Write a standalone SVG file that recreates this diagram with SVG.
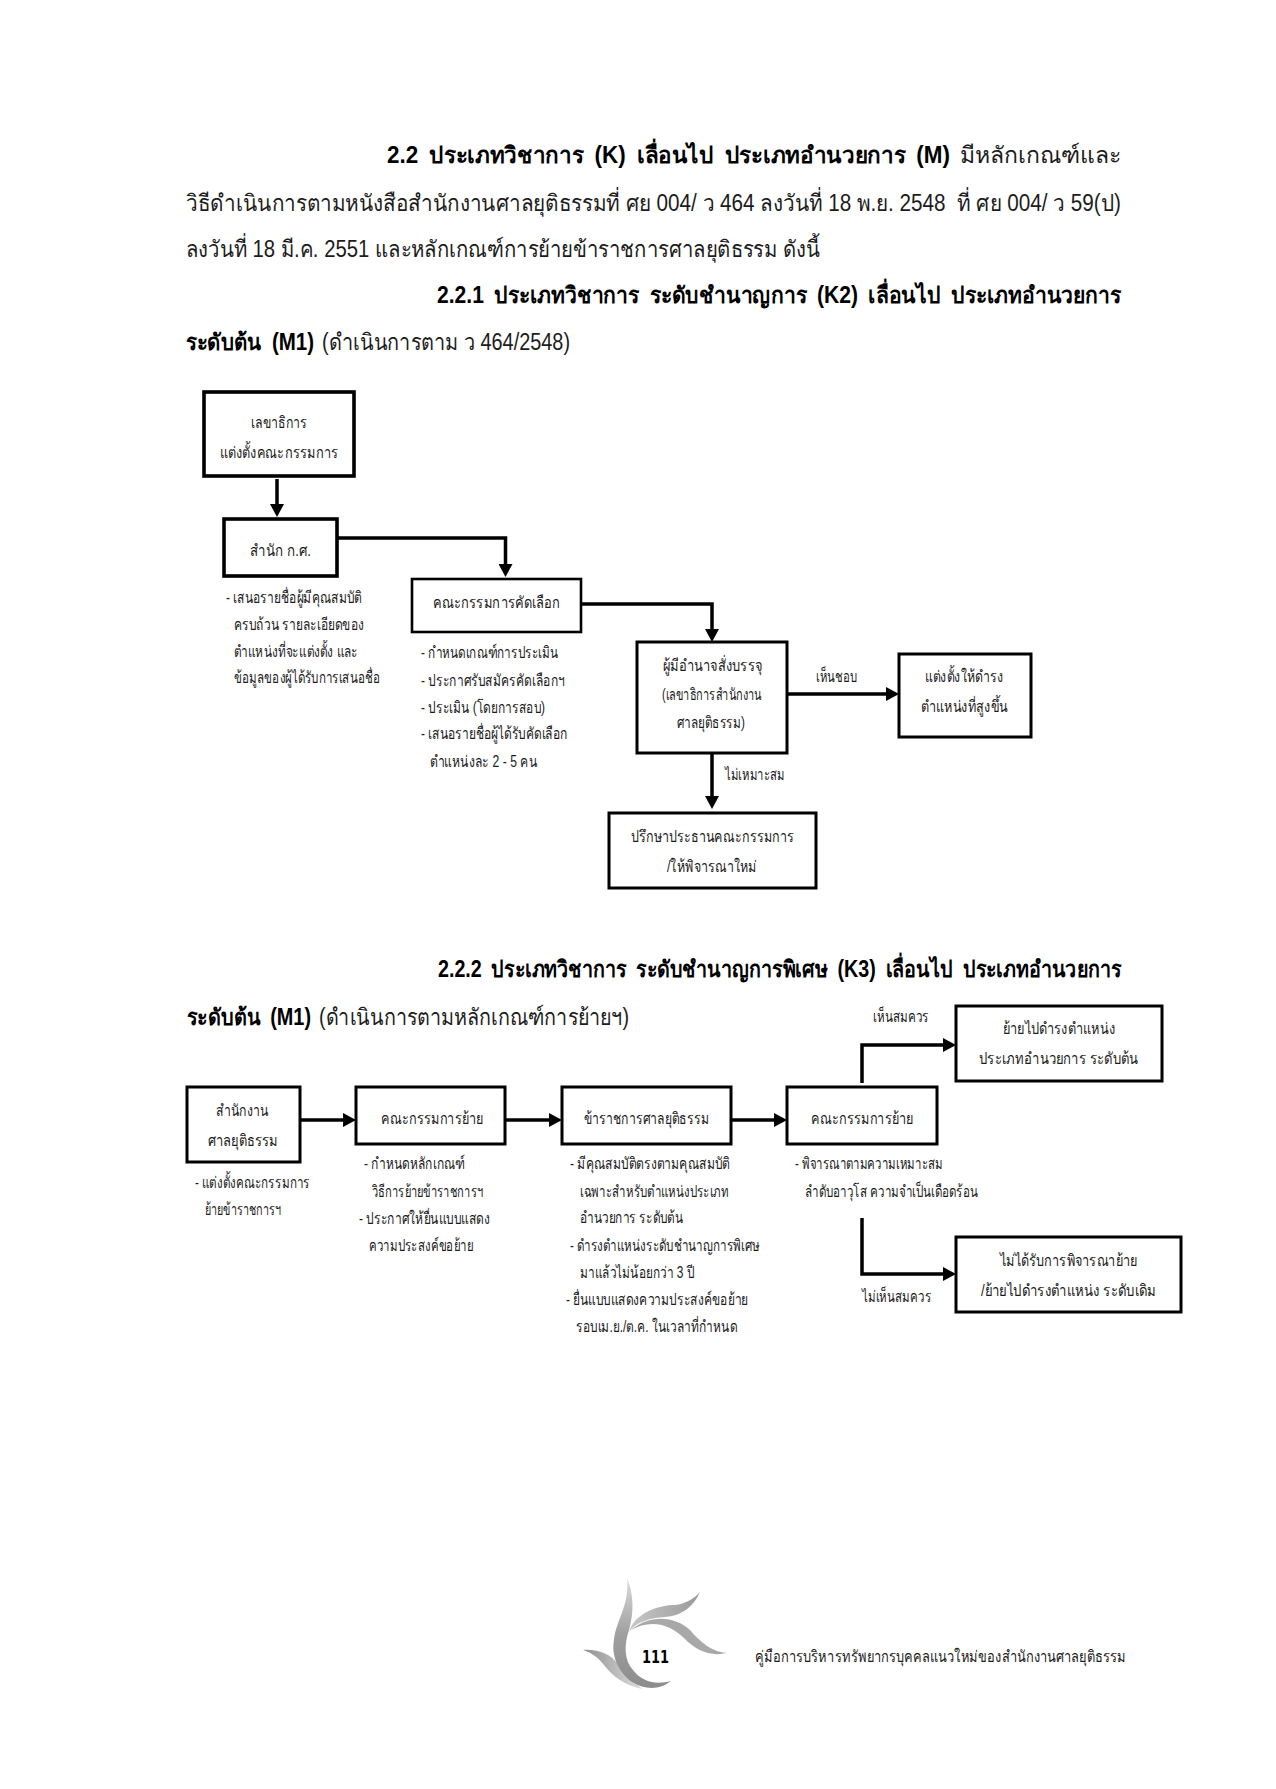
<svg xmlns="http://www.w3.org/2000/svg" width="1276" height="1789" viewBox="0 0 1276 1789">
<style>
text{font-family:"Liberation Sans","Noto Sans",sans-serif;fill:#1c1c1c}
.h{font-size:23px}
.hb{font-size:23px;font-weight:bold;word-spacing:5px;fill:#000}
.s{font-size:16px}
.box{fill:#fff;stroke:#000;stroke-width:3}
.thick{stroke-width:3.6}
.thin{stroke-width:2.6}
.c{fill:none;stroke:#000;stroke-width:3.5}
</style>
<defs>
<marker id="a" markerUnits="userSpaceOnUse" markerWidth="14" markerHeight="14" refX="0" refY="7" orient="auto"><path d="M0 0L13 7L0 14Z" fill="#000"/></marker>
<linearGradient id="g1" x1="0" y1="0" x2="0" y2="1"><stop offset="0" stop-color="#dcdcdc"/><stop offset="0.5" stop-color="#a0a0a0"/><stop offset="1" stop-color="#8c8c8c"/></linearGradient>
<linearGradient id="g2" x1="0" y1="0" x2="1" y2="0"><stop offset="0" stop-color="#c8c8c8"/><stop offset="1" stop-color="#9a9a9a"/></linearGradient>
<linearGradient id="g3" x1="0" y1="0" x2="1" y2="0"><stop offset="0" stop-color="#8f8f8f"/><stop offset="1" stop-color="#dedede"/></linearGradient>
</defs>
<rect width="1276" height="1789" fill="#fff"/>
<g id="body-text">
<text class="hb" x="387" y="163" textLength="563" lengthAdjust="spacingAndGlyphs">2.2 ประเภทวิชาการ (K) เลื่อนไป ประเภทอำนวยการ (M)</text>
<text class="h" x="960" y="163" textLength="161" lengthAdjust="spacingAndGlyphs">มีหลักเกณฑ์และ</text>
<text class="h" x="186" y="211" textLength="935" lengthAdjust="spacingAndGlyphs">วิธีดำเนินการตามหนังสือสำนักงานศาลยุติธรรมที่ ศย 004/ ว 464 ลงวันที่ 18 พ.ย. 2548 &#160;ที่ ศย 004/ ว 59(ป)</text>
<text class="h" x="186" y="257" textLength="634" lengthAdjust="spacingAndGlyphs">ลงวันที่ 18 มี.ค. 2551 และหลักเกณฑ์การย้ายข้าราชการศาลยุติธรรม ดังนี้</text>
<text class="hb" x="437" y="303" textLength="684" lengthAdjust="spacingAndGlyphs">2.2.1 ประเภทวิชาการ ระดับชำนาญการ (K2) เลื่อนไป ประเภทอำนวยการ</text>
<text class="hb" x="186" y="350" textLength="128" lengthAdjust="spacingAndGlyphs">ระดับต้น (M1)</text>
<text class="h" x="322" y="350" textLength="248" lengthAdjust="spacingAndGlyphs">(ดำเนินการตาม ว 464/2548)</text>
<text class="hb" x="438" y="977" textLength="683" lengthAdjust="spacingAndGlyphs">2.2.2 ประเภทวิชาการ ระดับชำนาญการพิเศษ (K3) เลื่อนไป ประเภทอำนวยการ</text>
<text class="hb" x="187" y="1025" textLength="124" lengthAdjust="spacingAndGlyphs">ระดับต้น (M1)</text>
<text class="h" x="319" y="1025" textLength="310" lengthAdjust="spacingAndGlyphs">(ดำเนินการตามหลักเกณฑ์การย้ายฯ)</text>
</g>
<g id="connectors">
<path class="c" d="M277 479V504" marker-end="url(#a)"/>
<path class="c" d="M337 538H505.500V564" marker-end="url(#a)"/>
<path class="c" d="M581 604H712V629" marker-end="url(#a)"/>
<path class="c" d="M787 694H886" marker-end="url(#a)"/>
<path class="c" d="M712 753V796" marker-end="url(#a)"/>
<path class="c" d="M300 1120H343" marker-end="url(#a)"/>
<path class="c" d="M505 1120H549" marker-end="url(#a)"/>
<path class="c" d="M731 1120H774" marker-end="url(#a)"/>
<path class="c" d="M862 1083V1045H943" marker-end="url(#a)"/>
<path class="c" d="M862 1218V1274H943" marker-end="url(#a)"/>
</g>
<g id="n1"><rect class="box thick" x="204" y="392" width="150" height="84"/><text class="s" x="251" y="428" textLength="56" lengthAdjust="spacingAndGlyphs">เลขาธิการ</text><text class="s" x="220" y="458" textLength="118" lengthAdjust="spacingAndGlyphs">แต่งตั้งคณะกรรมการ</text></g>
<g id="n2"><rect class="box thick" x="224" y="519" width="113" height="57"/><text class="s" x="250" y="556" textLength="61" lengthAdjust="spacingAndGlyphs">สำนัก ก.ศ.</text></g>
<g id="n2-notes"><text class="s" x="226" y="603" textLength="136" lengthAdjust="spacingAndGlyphs">- เสนอรายชื่อผู้มีคุณสมบัติ</text><text class="s" x="234" y="630" textLength="130" lengthAdjust="spacingAndGlyphs">ครบถ้วน รายละเอียดของ</text><text class="s" x="234" y="657" textLength="124" lengthAdjust="spacingAndGlyphs">ตำแหน่งที่จะแต่งตั้ง และ</text><text class="s" x="234" y="683" textLength="146" lengthAdjust="spacingAndGlyphs">ข้อมูลของผู้ได้รับการเสนอชื่อ</text></g>
<g id="n3"><rect class="box thin" x="412" y="579" width="169" height="53"/><text class="s" x="433" y="608" textLength="127" lengthAdjust="spacingAndGlyphs">คณะกรรมการคัดเลือก</text></g>
<g id="n3-notes"><text class="s" x="421" y="658" textLength="137" lengthAdjust="spacingAndGlyphs">- กำหนดเกณฑ์การประเมิน</text><text class="s" x="421" y="686" textLength="144" lengthAdjust="spacingAndGlyphs">- ประกาศรับสมัครคัดเลือกฯ</text><text class="s" x="421" y="713" textLength="124" lengthAdjust="spacingAndGlyphs">- ประเมิน (โดยการสอบ)</text><text class="s" x="421" y="739" textLength="147" lengthAdjust="spacingAndGlyphs">- เสนอรายชื่อผู้ได้รับคัดเลือก</text><text class="s" x="430" y="767" textLength="107" lengthAdjust="spacingAndGlyphs">ตำแหน่งละ 2 - 5 คน</text></g>
<g id="n4"><rect class="box" x="637" y="642" width="150" height="111"/><text class="s" x="663" y="671" textLength="99" lengthAdjust="spacingAndGlyphs">ผู้มีอำนาจสั่งบรรจุ</text><text class="s" x="662" y="700" textLength="100" lengthAdjust="spacingAndGlyphs">(เลขาธิการสำนักงาน</text><text class="s" x="677" y="728" textLength="68" lengthAdjust="spacingAndGlyphs">ศาลยุติธรรม)</text></g>
<g id="n5"><rect class="box" x="899" y="654" width="132" height="83"/><text class="s" x="925" y="682" textLength="78" lengthAdjust="spacingAndGlyphs">แต่งตั้งให้ดำรง</text><text class="s" x="921" y="712" textLength="87" lengthAdjust="spacingAndGlyphs">ตำแหน่งที่สูงขึ้น</text></g>
<g id="n6"><rect class="box" x="609" y="813" width="207" height="75"/><text class="s" x="631" y="842" textLength="163" lengthAdjust="spacingAndGlyphs">ปรึกษาประธานคณะกรรมการ</text><text class="s" x="667" y="872" textLength="90" lengthAdjust="spacingAndGlyphs">/ให้พิจารณาใหม่</text></g>
<g id="labels-1"><text class="s" x="816" y="682" textLength="41" lengthAdjust="spacingAndGlyphs">เห็นชอบ</text><text class="s" x="725" y="780" textLength="60" lengthAdjust="spacingAndGlyphs">ไม่เหมาะสม</text></g>
<g id="a1"><rect class="box" x="187" y="1087" width="113" height="75"/><text class="s" x="216" y="1116" textLength="52" lengthAdjust="spacingAndGlyphs">สำนักงาน</text><text class="s" x="208" y="1146" textLength="70" lengthAdjust="spacingAndGlyphs">ศาลยุติธรรม</text></g>
<g id="a1-notes"><text class="s" x="195" y="1188" textLength="115" lengthAdjust="spacingAndGlyphs">- แต่งตั้งคณะกรรมการ</text><text class="s" x="205" y="1215" textLength="76" lengthAdjust="spacingAndGlyphs">ย้ายข้าราชการฯ</text></g>
<g id="a2"><rect class="box" x="356" y="1087" width="149" height="57"/><text class="s" x="381" y="1124" textLength="102" lengthAdjust="spacingAndGlyphs">คณะกรรมการย้าย</text></g>
<g id="a2-notes"><text class="s" x="364" y="1169" textLength="101" lengthAdjust="spacingAndGlyphs">- กำหนดหลักเกณฑ์</text><text class="s" x="372" y="1197" textLength="111" lengthAdjust="spacingAndGlyphs">วิธีการย้ายข้าราชการฯ</text><text class="s" x="359" y="1224" textLength="131" lengthAdjust="spacingAndGlyphs">- ประกาศให้ยื่นแบบแสดง</text><text class="s" x="369" y="1251" textLength="104" lengthAdjust="spacingAndGlyphs">ความประสงค์ขอย้าย</text></g>
<g id="a3"><rect class="box" x="562" y="1087" width="169" height="57"/><text class="s" x="584" y="1124" textLength="125" lengthAdjust="spacingAndGlyphs">ข้าราชการศาลยุติธรรม</text></g>
<g id="a3-notes"><text class="s" x="570" y="1169" textLength="160" lengthAdjust="spacingAndGlyphs">- มีคุณสมบัติตรงตามคุณสมบัติ</text><text class="s" x="580" y="1197" textLength="149" lengthAdjust="spacingAndGlyphs">เฉพาะสำหรับตำแหน่งประเภท</text><text class="s" x="580" y="1223" textLength="103" lengthAdjust="spacingAndGlyphs">อำนวยการ ระดับต้น</text><text class="s" x="570" y="1251" textLength="190" lengthAdjust="spacingAndGlyphs">- ดำรงตำแหน่งระดับชำนาญการพิเศษ</text><text class="s" x="580" y="1278" textLength="114" lengthAdjust="spacingAndGlyphs">มาแล้วไม่น้อยกว่า 3 ปี</text><text class="s" x="566" y="1305" textLength="182" lengthAdjust="spacingAndGlyphs">- ยื่นแบบแสดงความประสงค์ขอย้าย</text><text class="s" x="576" y="1332" textLength="161" lengthAdjust="spacingAndGlyphs">รอบเม.ย./ต.ค. ในเวลาที่กำหนด</text></g>
<g id="a4"><rect class="box" x="787" y="1087" width="150" height="57"/><text class="s" x="811" y="1124" textLength="102" lengthAdjust="spacingAndGlyphs">คณะกรรมการย้าย</text></g>
<g id="a4-notes"><text class="s" x="795" y="1169" textLength="148" lengthAdjust="spacingAndGlyphs">- พิจารณาตามความเหมาะสม</text><text class="s" x="805" y="1197" textLength="173" lengthAdjust="spacingAndGlyphs">ลำดับอาวุโส ความจำเป็นเดือดร้อน</text></g>
<g id="a5"><rect class="box" x="956" y="1006" width="206" height="75"/><text class="s" x="1003" y="1034" textLength="112" lengthAdjust="spacingAndGlyphs">ย้ายไปดำรงตำแหน่ง</text><text class="s" x="979" y="1064" textLength="159" lengthAdjust="spacingAndGlyphs">ประเภทอำนวยการ ระดับต้น</text></g>
<g id="a6"><rect class="box" x="956" y="1237" width="225" height="75"/><text class="s" x="1000" y="1266" textLength="137" lengthAdjust="spacingAndGlyphs">ไม่ได้รับการพิจารณาย้าย</text><text class="s" x="981" y="1296" textLength="175" lengthAdjust="spacingAndGlyphs">/ย้ายไปดำรงตำแหน่ง ระดับเดิม</text></g>
<g id="labels-2"><text class="s" x="873" y="1022" textLength="56" lengthAdjust="spacingAndGlyphs">เห็นสมควร</text><text class="s" x="862" y="1302" textLength="69" lengthAdjust="spacingAndGlyphs">ไม่เห็นสมควร</text></g>
<g id="footer">
<path d="M583 1650C598 1649 610 1654 617 1663L642 1689C626 1686 612 1676 604 1665C598 1657 590 1652 583 1650Z" fill="url(#g3)"/>
<path d="M627 1578C634 1595 634 1612 629 1630C624 1645 624 1660 633 1670C642 1682 656 1685 671 1681C660 1690 645 1690 632 1682C618 1672 611 1655 614 1640C616 1620 630 1605 627 1578Z" fill="url(#g1)"/>
<path d="M629 1632C635 1612 660 1605 675 1605C685 1604 695 1598 700 1592C694 1606 682 1616 665 1617C650 1618 636 1622 629 1632Z" fill="url(#g2)"/>
<path d="M631 1630C650 1614 675 1616 690 1630C700 1642 712 1652 727 1653C710 1657 695 1650 684 1638C668 1622 648 1620 631 1630Z" fill="#a8a8a8"/>
<text x="642" y="1663" textLength="27" lengthAdjust="spacingAndGlyphs" style="font-family:'DejaVu Sans',sans-serif;font-size:17px;font-weight:bold;fill:#000">111</text>
<text class="s" x="755" y="1662" textLength="371" lengthAdjust="spacingAndGlyphs">คู่มือการบริหารทรัพยากรบุคคลแนวใหม่ของสำนักงานศาลยุติธรรม</text>
</g>
</svg>
